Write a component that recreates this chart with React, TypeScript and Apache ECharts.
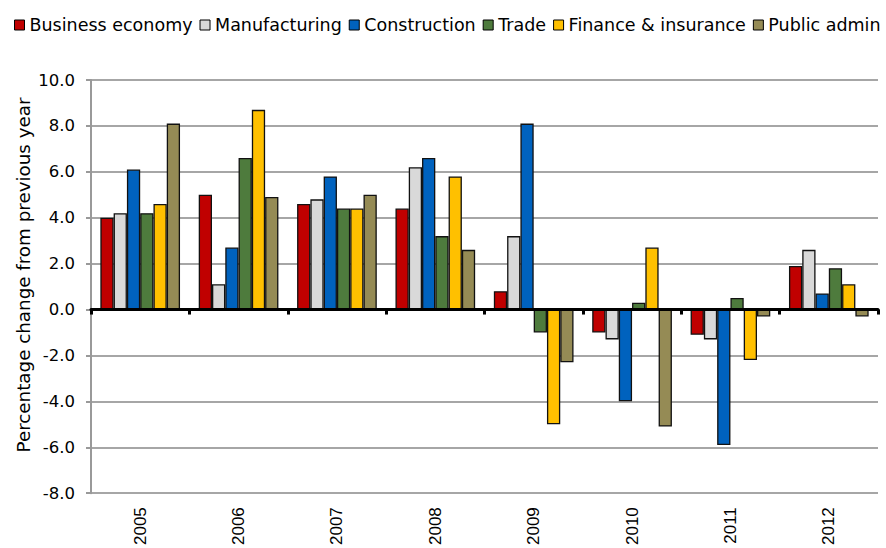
import React, { useEffect, useRef } from "react";
import * as echarts from "echarts";

const years = ["2005", "2006", "2007", "2008", "2009", "2010", "2011", "2012"];
const seriesNames = ["Business economy", "Manufacturing", "Construction", "Trade", "Finance & insurance", "Public admin"];
const business = [4.0, 5.0, 4.6, 4.4, 0.8, -1.0, -1.1, 1.9];
const manufacturing = [4.2, 1.1, 4.8, 6.2, 3.2, -1.3, -1.3, 2.6];
const construction = [6.1, 2.7, 5.8, 6.6, 8.1, -4.0, -5.9, 0.7];
const trade = [4.2, 6.6, 4.4, 3.2, -1.0, 0.3, 0.5, 1.8];
const finance = [4.6, 8.7, 4.4, 5.8, -5.0, 2.7, -2.2, 1.1];
const publicAdmin = [8.1, 4.9, 5.0, 2.6, -2.3, -5.1, -0.3, -0.3];
const colors = ["#C00000", "#D9D9D9", "#0062BE", "#4E7B3D", "#FFC000", "#958B55"];
const yAxisTitle = "Percentage change from previous year";

const LABEL_FONT = "DejaVu Sans";

export default function App() {
  const ref = useRef<HTMLDivElement>(null);
  useEffect(() => {
    const chart = echarts.init(ref.current!, undefined, { renderer: "svg" });
    const data = [business, manufacturing, construction, trade, finance, publicAdmin];
    chart.setOption({
      animation: false,
      backgroundColor: "#ffffff",
      legend: {
        top: 16,
        left: 14,
        width: 872,
        padding: 0,
        itemWidth: 10,
        itemHeight: 10,
        itemGap: 7,
        icon: "rect",
        textStyle: { fontFamily: LABEL_FONT, fontSize: 17.5, color: "#000", padding: [0, 0, 0, 0] },
        data: seriesNames.map((n) => ({ name: n, itemStyle: { borderColor: "#000", borderWidth: 1 } })),
      },
      graphic: [
        {
          type: "text",
          x: 23,
          y: 275,
          rotation: Math.PI / 2,
          style: {
            text: yAxisTitle,
            fontFamily: LABEL_FONT,
            fontSize: 18.3,
            fill: "#000",
            align: "center",
            verticalAlign: "middle",
          },
        },
      ],
      grid: { left: 91, right: 8, top: 80, bottom: 52 },
      xAxis: [
        {
          type: "category",
          data: years,
          axisLine: { onZero: true, lineStyle: { color: "#000", width: 3 } },
          axisTick: { show: true, length: 5, lineStyle: { color: "#000", width: 3 } },
          axisLabel: { show: false },
          z: 10,
        },
        {
          type: "category",
          data: years,
          position: "bottom",
          axisLine: { show: false, onZero: false },
          axisTick: { show: false },
          axisLabel: { rotate: 90, margin: 14, fontFamily: "Liberation Sans", fontSize: 17, color: "#000" },
        },
      ],
      yAxis: {
        type: "value",
        min: -8,
        max: 10,
        interval: 2,
        axisLine: { show: true, lineStyle: { color: "#999", width: 2 } },
        axisTick: { show: true, length: 5, lineStyle: { color: "#999", width: 2 } },
        axisLabel: {
          margin: 16,
          fontFamily: LABEL_FONT,
          fontSize: 16.5,
          color: "#000",
          formatter: (v: number) => v.toFixed(1),
        },
        splitLine: { show: true, lineStyle: { color: "#A6A6A6", width: 2 } },
      },
      series: seriesNames.map((name, i) => ({
        name,
        type: "bar",
        xAxisIndex: 0,
        data: data[i],
        barGap: "0%",
        barCategoryGap: "19%",
        itemStyle: { color: colors[i], borderColor: "#111", borderWidth: 1.3 },
      })),
    });
    return () => chart.dispose();
  }, []);
  return <div ref={ref} style={{ position: "fixed", left: 0, top: 0, width: 886, height: 548 }} />;
}
